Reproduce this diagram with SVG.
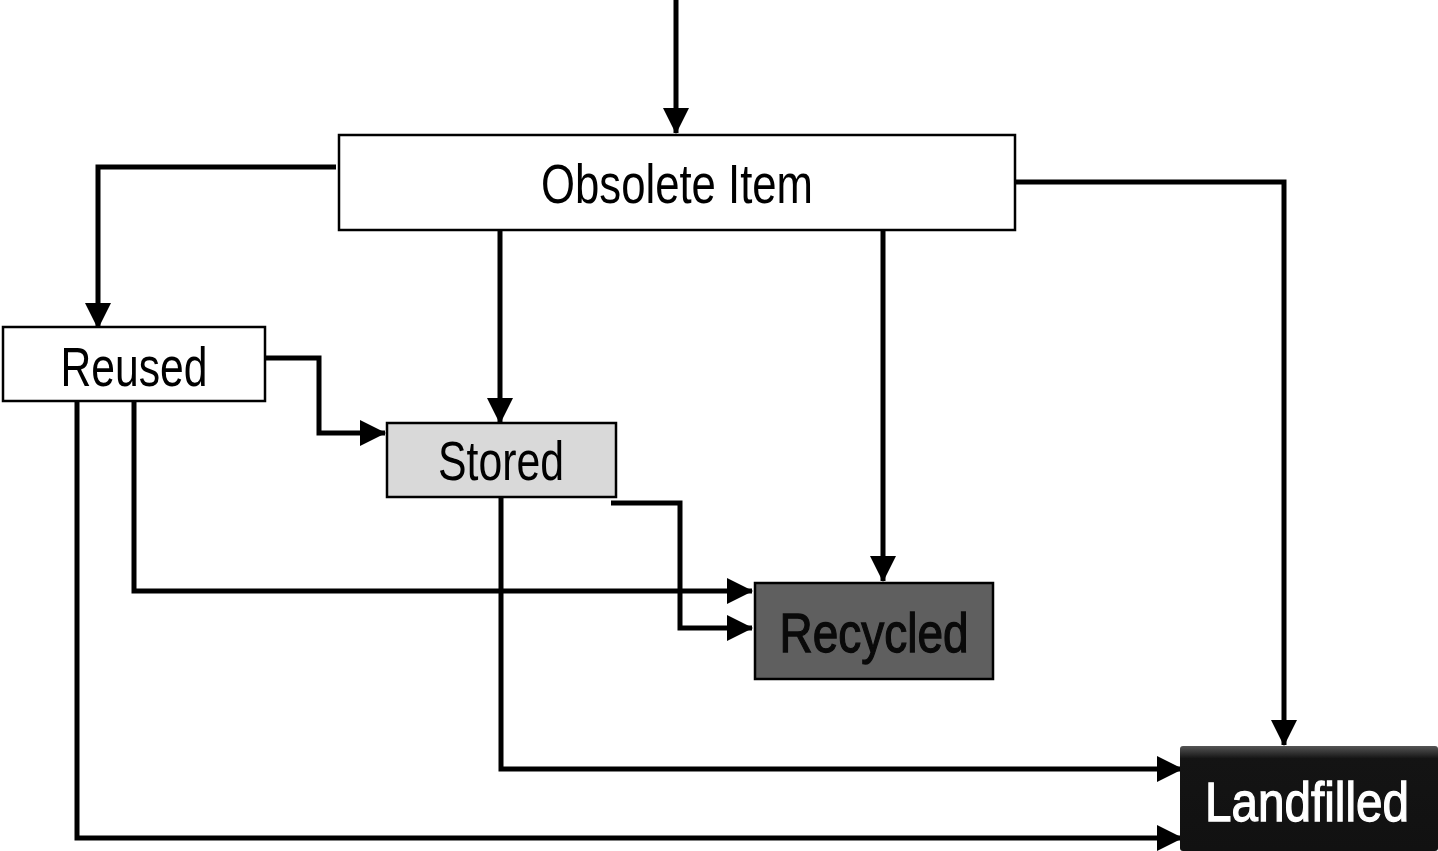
<svg xmlns="http://www.w3.org/2000/svg" width="1438" height="851" viewBox="0 0 1438 851">
  <style>
    .box { stroke: #000; stroke-width: 2.5; }
    .lbl { font-family: "Liberation Sans Narrow", "Liberation Sans", Arial, sans-serif; font-size: 56px; text-anchor: middle; }
    .heavy { stroke-width: 1.3; }
    .edge { fill: none; stroke: #000; stroke-width: 5; stroke-linejoin: miter; }
  </style>
  <defs>
    <marker id="arrow" viewBox="0 0 26 26" refX="25" refY="13" markerWidth="26" markerHeight="26" markerUnits="userSpaceOnUse" orient="auto">
      <path d="M0,0 L26,13 L0,26 Z" fill="#000"/>
    </marker>
    <linearGradient id="bevel" x1="0" y1="0" x2="0" y2="1">
      <stop offset="0" stop-color="#555"/>
      <stop offset="0.12" stop-color="#141414"/>
      <stop offset="1" stop-color="#111"/>
    </linearGradient>
  </defs>

  <rect width="1438" height="851" fill="#fff"/>

  <g id="connectors">
    <path class="edge" d="M676,0 V133" marker-end="url(#arrow)"/>
    <path class="edge" d="M336,167 H98 V328" marker-end="url(#arrow)"/>
    <path class="edge" d="M500,231 V423" marker-end="url(#arrow)"/>
    <path class="edge" d="M883,231 V581" marker-end="url(#arrow)"/>
    <path class="edge" d="M1016,182 H1284 V745" marker-end="url(#arrow)"/>
    <path class="edge" d="M266,358 H319 V433 H385" marker-end="url(#arrow)"/>
    <path class="edge" d="M134,401 V591 H752" marker-end="url(#arrow)"/>
    <path class="edge" d="M77,401 V838 H1182" marker-end="url(#arrow)"/>
    <path class="edge" d="M611,503 H680 V628 H752" marker-end="url(#arrow)"/>
    <path class="edge" d="M501,497 V769 H1182" marker-end="url(#arrow)"/>
  </g>

  <g id="node-obsolete">
    <rect class="box" x="339" y="135" width="676" height="95" fill="#fff"/>
    <text class="lbl" x="677" y="203" textLength="272" lengthAdjust="spacingAndGlyphs">Obsolete Item</text>
  </g>

  <g id="node-reused">
    <rect class="box" x="3" y="327" width="262" height="74" fill="#fff"/>
    <text class="lbl" x="134" y="386" textLength="147" lengthAdjust="spacingAndGlyphs">Reused</text>
  </g>

  <g id="node-stored">
    <rect class="box" x="387" y="423" width="229" height="74" fill="#d9d9d9"/>
    <text class="lbl" x="501" y="480" textLength="126" lengthAdjust="spacingAndGlyphs">Stored</text>
  </g>

  <g id="node-recycled">
    <rect class="box" x="755" y="583" width="238" height="96" fill="#5f5f5f"/>
    <text class="lbl heavy" x="874" y="652" textLength="189" lengthAdjust="spacingAndGlyphs" fill="#0a0a0a" stroke="#0a0a0a">Recycled</text>
  </g>

  <g id="node-landfilled">
    <rect x="1180" y="746" width="258" height="105" rx="3" fill="url(#bevel)"/>
    <text class="lbl heavy" x="1307" y="821" textLength="204" lengthAdjust="spacingAndGlyphs" fill="#fff" stroke="#fff">Landfilled</text>
  </g>
</svg>
